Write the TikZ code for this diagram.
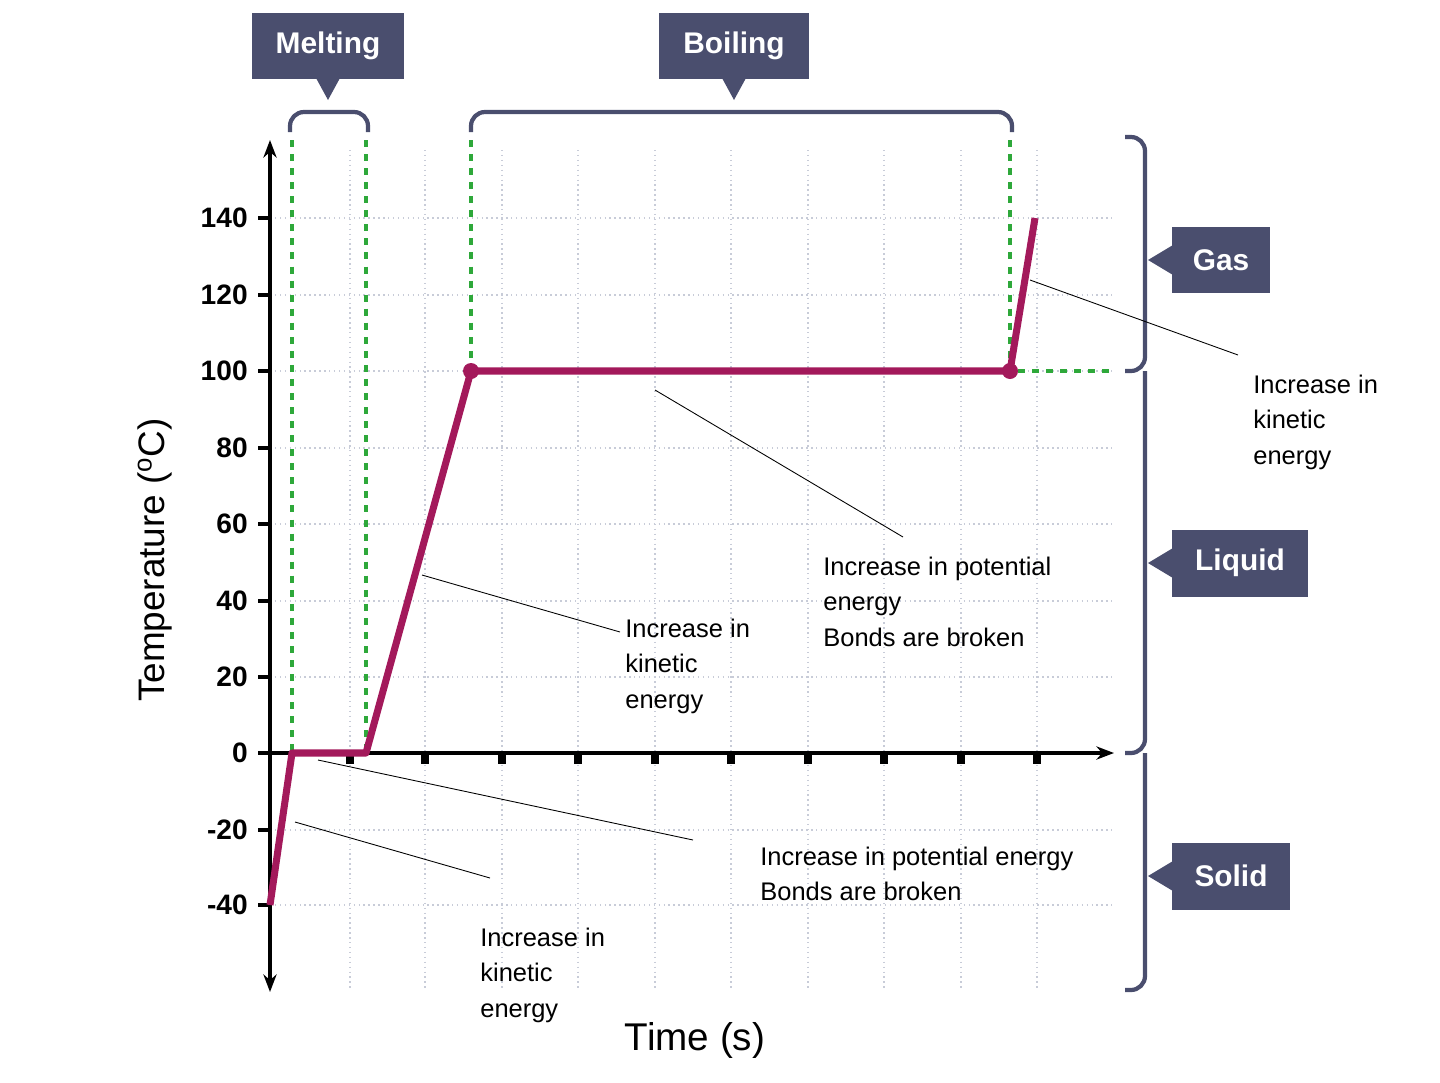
\documentclass[tikz,border=0pt]{standalone}
\usepackage{fontspec}
\setmainfont{Liberation Sans}
\usetikzlibrary{arrows.meta}
\definecolor{slate}{HTML}{4A4E6E}
\definecolor{curve}{HTML}{A3195B}
\definecolor{grn}{HTML}{2EA83A}
\definecolor{gridc}{HTML}{C8CCD8}
\tikzset{
 tag/.style={fill=slate,text=white,font=\fontsize{17}{20}\selectfont\bfseries,minimum height=1.34cm,inner xsep=6pt},
 note/.style={align=left,anchor=north west,font=\fontsize{14.5}{20}\selectfont,inner sep=0pt},
 tick/.style={font=\fontsize{16}{18}\selectfont\bfseries,anchor=east,inner sep=0pt},
 ann/.style={draw=black,line width=0.5pt},
 gd/.style={grn,line width=2pt,dash pattern=on 4pt off 4pt},
 brace/.style={slate,line width=2.4pt,rounded corners=8pt}
}
\begin{document}
\begin{tikzpicture}[x=0.02cm,y=-0.02cm]
\useasboundingbox (0,0) rectangle (1440,1082);
% grid
\foreach \x in {350,425,502,578,655,731,808,884,961,1037}
  \draw[gridc,dotted,line width=0.8pt] (\x,150) -- (\x,990);
\foreach \y in {218,295,371,448,524,601,677,830,905}
  \draw[gridc,dotted,line width=0.8pt] (270,\y) -- (1112,\y);
% green dashed
\draw[gd] (292,140) -- (292,753);
\draw[gd] (366,140) -- (366,753);
\draw[gd] (471,140) -- (471,371);
\draw[gd] (1010,140) -- (1010,371) -- (1112,371);
% axes
\draw[line width=2.2pt,{Stealth[length=10pt]}-{Stealth[length=10pt]}] (270,140) -- (270,992);
\draw[line width=2.2pt,-{Stealth[length=10pt]}] (258,753) -- (1114,753);
\foreach \x in {350,425,502,578,655,731,808,884,961,1037}
  \draw[line width=4pt] (\x,753) -- (\x,764);
\foreach \y/\t in {218/140,295/120,371/100,448/80,524/60,601/40,677/20,753/0,830/-20,905/-40}{
  \draw[line width=2.5pt] (258,\y) -- (270,\y);
  \node[tick] at (248,\y) {\t};}
\node[rotate=90,font=\fontsize{21}{24}\selectfont] (ylab) at (155,560) {Temperature (\textsuperscript{o}C)};
\node[font=\fontsize{22}{26}\selectfont] (xlab) at (695,1040) {Time (s)};
% curve
\coordinate (p0) at (270,905); \coordinate (p1) at (292,753);
\coordinate (p2) at (366,753); \coordinate (p3) at (471,371);
\coordinate (p4) at (1010,371); \coordinate (p5) at (1035,218);
\draw[curve,line width=4pt,line join=round] (p0) -- (p1) -- (p2) -- (p3) -- (p4) -- (p5);
\fill[curve] (p3) circle (8) (p4) circle (8);
% top braces and tags
\draw[brace] (290,132) -- (290,112) -- (368,112) -- (368,132);
\draw[brace] (471,132) -- (471,112) -- (1012,112) -- (1012,132);
\node[tag,minimum width=3.04cm] (melt) at (328,46) {Melting};
\node[tag,minimum width=3.0cm] (boil) at (734,46) {Boiling};
\fill[slate] (316,78) -- (340,78) -- (328,100) -- cycle;
\fill[slate] (722,78) -- (746,78) -- (734,100) -- cycle;
% right braces
\draw[brace] (1125,137) -- (1145,137) -- (1145,371) -- (1125,371);
\draw[brace] (1145,371) -- (1145,753) -- (1125,753);
\draw[brace] (1145,753) -- (1145,990) -- (1125,990);
\node[tag,minimum width=1.96cm] (gas) at (1221,260) {Gas};
\node[tag,minimum width=2.72cm] (liq) at (1240,563) {Liquid};
\node[tag,minimum width=2.36cm] (sol) at (1231,876) {Solid};
\fill[slate] (1173,245) -- (1173,275) -- (1148,260) -- cycle;
\fill[slate] (1173,548) -- (1173,578) -- (1148,563) -- cycle;
\fill[slate] (1173,861) -- (1173,891) -- (1148,876) -- cycle;
% annotations
\node[note] (n1) at (1253,375) {Increase in\\kinetic\\energy};
\coordinate (a1) at (1030,280); \coordinate (b1) at (1238,355);
\draw[ann] (a1) -- (b1);
\node[note] (n2) at (823,557) {Increase in potential\\energy\\Bonds are broken};
\coordinate (a2) at (655,390); \coordinate (b2) at (903,537);
\draw[ann] (a2) -- (b2);
\node[note] (n3) at (625,619) {Increase in\\kinetic\\energy};
\coordinate (a3) at (422,575); \coordinate (b3) at (620,632);
\draw[ann] (a3) -- (b3);
\node[note] (n4) at (760,847) {Increase in potential energy\\Bonds are broken};
\coordinate (a4) at (318,760); \coordinate (b4) at (693,840);
\draw[ann] (a4) -- (b4);
\node[note] (n5) at (480,928) {Increase in\\kinetic\\energy};
\coordinate (a5) at (295,822); \coordinate (b5) at (490,878);
\draw[ann] (a5) -- (b5);
\end{tikzpicture}
\end{document}
